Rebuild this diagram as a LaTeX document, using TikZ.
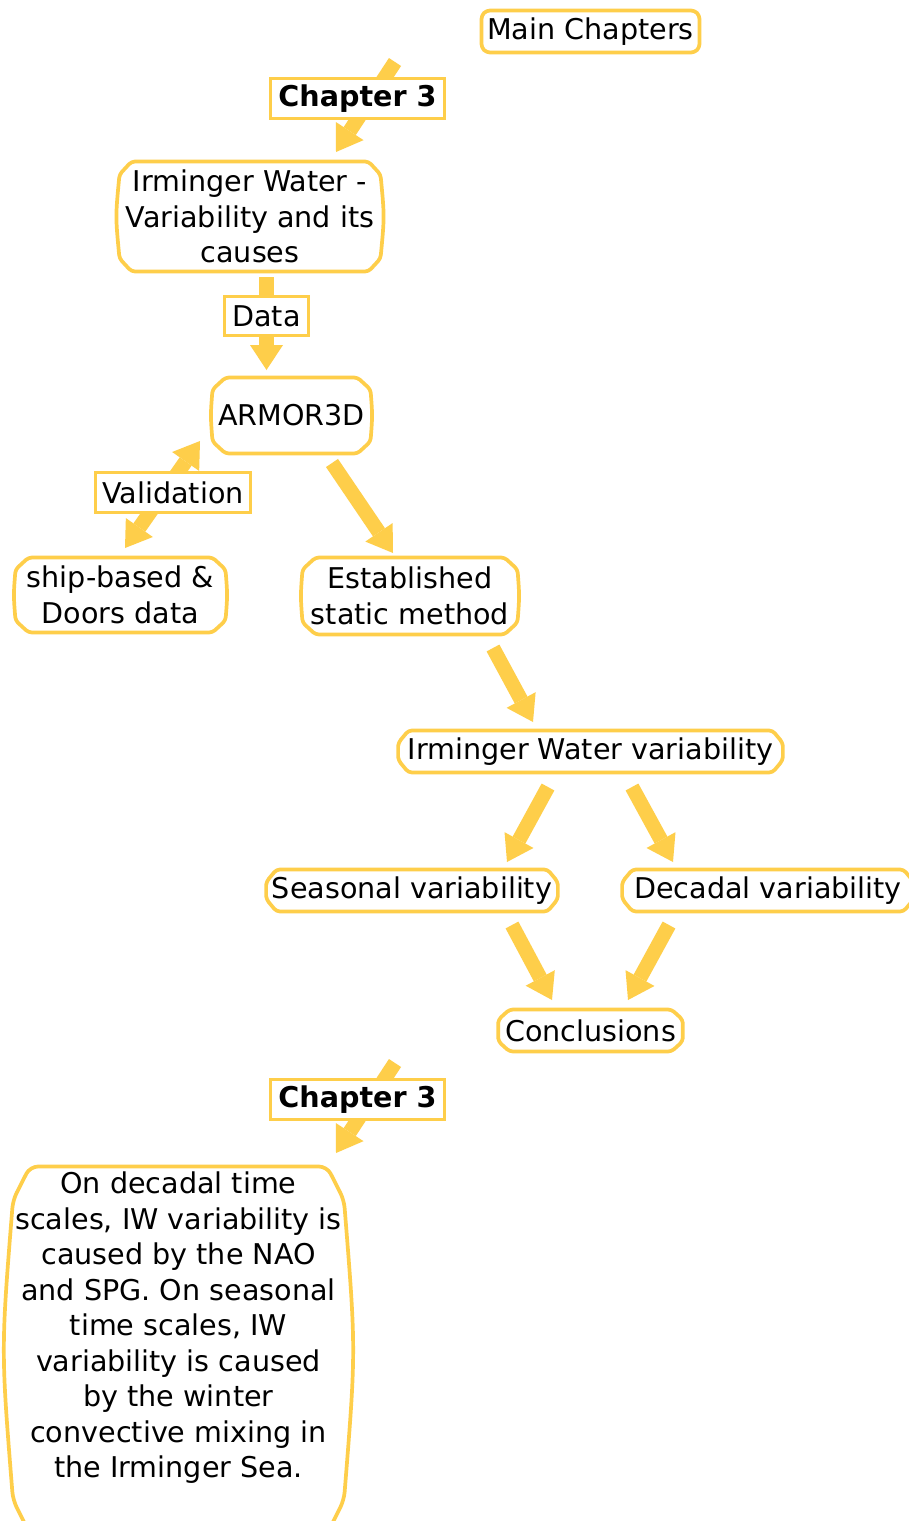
\documentclass[tikz,border=0pt]{standalone}
\usepackage{fontspec}
\setmainfont{DejaVu Sans}
\usetikzlibrary{arrows.meta,calc}
\definecolor{ylw}{RGB}{254,206,74}

% chamfered outline with slightly bulging sides around a node
% #1 node, #2 horizontal chamfer, #3 vertical chamfer, #4 side bulge (control offset)
\newcommand\chamf[4]{%
  \draw[boxline] ([xshift=#2pt]#1.north west) -- ([xshift=-#2pt]#1.north east)
    -- ([yshift=-#3pt]#1.north east) .. controls ([xshift=#4pt]#1.east) .. ([yshift=#3pt]#1.south east)
    -- ([xshift=-#2pt]#1.south east) -- ([xshift=#2pt]#1.south west)
    -- ([yshift=#3pt]#1.south west) .. controls ([xshift=-#4pt]#1.west) .. ([yshift=-#3pt]#1.north west)
    -- cycle;}

\begin{document}
\begin{tikzpicture}[x=1pt,y=-1pt,
  txt/.style={font=\fontsize{28.6}{35.5}\selectfont, align=center, inner sep=0pt, outer sep=0pt},
  boxline/.style={draw=ylw, line width=3.7pt, rounded corners=3.5pt, line join=round},
  tag/.style={txt, draw=ylw, fill=white, line width=3.8pt},
  flowarrow/.style={draw=ylw, line width=14.5pt,
    -{Triangle[length=25pt,width=33pt,line width=0pt]}},
  flowboth/.style={draw=ylw, line width=14.5pt,
    {Triangle[length=25pt,width=33pt,line width=0pt]}-{Triangle[length=25pt,width=33pt,line width=0pt]}}]

\fill[white] (0,0) rectangle (908,1521);
\useasboundingbox (0,0) rectangle (908,1521);

% boxes
\node[txt, minimum width=218pt, minimum height=42pt] (main) at (590.5,31.5) {Main Chapters};
\node[txt, minimum width=261pt, minimum height=110pt] (irm) at (250,216.5) {Irminger Water -\\Variability and its\\causes};
\node[txt, minimum width=158pt, minimum height=76pt] (armor) at (291.5,415.5) {ARMOR3D};
\node[txt, minimum width=210pt, minimum height=75pt] (ship) at (120.5,595) {ship-based \&\\Doors data};
\node[txt, minimum width=215pt, minimum height=77pt] (est) at (410,596) {Established\\static method};
\node[txt, minimum width=384pt, minimum height=42pt] (iwv) at (590.5,751.5) {Irminger Water variability};
\node[txt, minimum width=291pt, minimum height=42pt] (seas) at (412,890.5) {Seasonal variability};
\node[txt, minimum width=291pt, minimum height=42pt] (dec) at (768,890.5) {Decadal variability};
\node[txt, minimum width=184pt, minimum height=42pt] (concl) at (590.5,1030.5) {Conclusions};
\node[txt] (fin) at (178.5,1328) {On decadal time\\scales, IW variability is\\caused by the NAO\\and SPG. On seasonal\\time scales, IW\\variability is caused\\by the winter\\convective mixing in\\the Irminger Sea.};

\chamf{main}{5}{5}{0}
\chamf{irm}{12}{13}{4}
\chamf{armor}{13}{12}{2}
\chamf{ship}{13}{12}{2}
\chamf{est}{13}{12}{2}
\chamf{iwv}{10}{12}{1}
\chamf{seas}{10}{12}{1}
\chamf{dec}{10}{12}{1}
\chamf{concl}{11}{10}{1}

% tall summary box with curved sides
\draw[boxline, rounded corners=8pt] ($(fin.center)+(-148.5,-161.5)$) -- ($(fin.center)+(148.5,-161.5)$)
  -- ($(fin.center)+(165.5,-128)$) .. controls ($(fin.center)+(177.5,22)$) .. ($(fin.center)+(165.5,172)$)
  -- ($(fin.center)+(148.5,206)$) -- ($(fin.center)+(-148.5,206)$)
  -- ($(fin.center)+(-165.5,172)$) .. controls ($(fin.center)+(-177.5,22)$) .. ($(fin.center)+(-165.5,-128)$)
  -- cycle;

% connectors
\coordinate (c1) at (395,62);
\coordinate (c2) at (395,1063);
\draw[flowarrow] (c1) -- ($(irm.center)+(86,-64.5)$);
\draw[flowarrow] ($(irm.center)+(16.5,60.5)$) -- ($(armor.center)+(-25,-45.5)$);
\draw[flowboth] ($(armor.center)+(-91.5,25.5)$) -- ($(ship.center)+(4.5,-47)$);
\draw[flowarrow] ($(armor.center)+(40.5,47.5)$) -- ($(est.center)+(-17,-43)$);
\draw[flowarrow] ($(est.center)+(83,52)$) -- ($(iwv.center)+(-57.5,-29.5)$);
\draw[flowarrow] ($(iwv.center)+(-42.5,35.5)$) -- ($(seas.center)+(95,-28.5)$);
\draw[flowarrow] ($(iwv.center)+(41.5,35.5)$) -- ($(dec.center)+(-95,-28.5)$);
\draw[flowarrow] ($(seas.center)+(100,34.5)$) -- ($(concl.center)+(-38.5,-30.5)$);
\draw[flowarrow] ($(dec.center)+(-99,34.5)$) -- ($(concl.center)+(37.5,-30.5)$);
\draw[flowarrow] (c2) -- ($(fin.center)+(157.5,-175)$);

% labels sitting on the connectors
\node[tag, minimum width=174pt, minimum height=40pt] (ch3a) at (357.5,98.5) {\bfseries Chapter 3};
\node[tag, minimum width=84pt, minimum height=39pt] (data) at (266.5,316) {Data};
\node[tag, minimum width=155pt, minimum height=40pt] (valid) at (173,492.5) {Validation};
\node[tag, minimum width=174pt, minimum height=40pt] (ch3b) at (357.5,1099.5) {\bfseries Chapter 3};
\end{tikzpicture}
\end{document}
